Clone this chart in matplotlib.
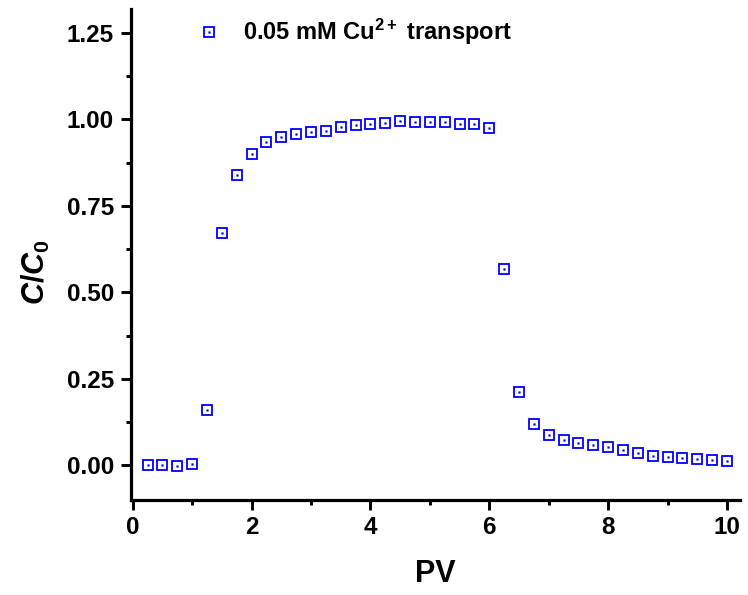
import matplotlib
matplotlib.use("Agg")
import matplotlib.pyplot as plt
from matplotlib.ticker import MultipleLocator, FormatStrFormatter

plt.rcParams['font.family'] = ['Liberation Sans', 'DejaVu Sans']
plt.rcParams['font.weight'] = 'bold'
plt.rcParams['mathtext.fontset'] = 'custom'
plt.rcParams['mathtext.rm'] = 'Liberation Sans:bold'
plt.rcParams['mathtext.bf'] = 'Liberation Sans:bold'
plt.rcParams['mathtext.it'] = 'Liberation Sans:bold:italic'

pv = [0.25, 0.5, 0.75, 1.0, 1.25, 1.5, 1.75, 2.0, 2.25, 2.5, 2.75, 3.0, 3.25, 3.5,
      3.75, 4.0, 4.25, 4.5, 4.75, 5.0, 5.25, 5.5, 5.75, 6.0, 6.25, 6.5, 6.75, 7.0,
      7.25, 7.5, 7.75, 8.0, 8.25, 8.5, 8.75, 9.0, 9.25, 9.5, 9.75, 10.0]
c_c0 = [0.000, 0.001, -0.001, 0.003, 0.159, 0.671, 0.838, 0.900, 0.934, 0.949,
        0.957, 0.964, 0.966, 0.977, 0.985, 0.988, 0.989, 0.994, 0.993, 0.993,
        0.992, 0.986, 0.987, 0.976, 0.569, 0.211, 0.119, 0.088, 0.074, 0.064,
        0.059, 0.052, 0.044, 0.036, 0.028, 0.023, 0.021, 0.018, 0.015, 0.013]
series_label = r"0.05 mM Cu$^{\mathbf{2+}}$ transport"

W, H = 748, 595
fig = plt.figure(figsize=(W / 100, H / 100), dpi=100)
ax = fig.add_axes([131 / W, 1 - 500 / H, (740 - 131) / W, (500 - 9) / H])

color = '#0000ff'
l1, = ax.plot(pv, c_c0, linestyle='none', marker='s', markersize=6.5,
              markerfacecolor='none', markeredgecolor=color, markeredgewidth=1.3)
l2, = ax.plot(pv, c_c0, linestyle='none', marker='s', markersize=1.2,
              markerfacecolor=color, markeredgecolor=color, markeredgewidth=0.3)

ax.set_xlim(-0.03, 10.22)
ax.set_ylim(-0.1, 1.319)
ax.xaxis.set_major_locator(MultipleLocator(2))
ax.xaxis.set_minor_locator(MultipleLocator(1))
ax.yaxis.set_major_locator(MultipleLocator(0.25))
ax.yaxis.set_minor_locator(MultipleLocator(0.125))
ax.yaxis.set_major_formatter(FormatStrFormatter('%.2f'))

for s in ['top', 'right']:
    ax.spines[s].set_visible(False)
for s in ['left', 'bottom']:
    ax.spines[s].set_linewidth(2.3)

ax.tick_params(which='major', direction='out', length=7.2, width=2.1,
               labelsize=17.5)
ax.tick_params(axis='y', which='major', pad=5)
ax.tick_params(axis='x', which='major', pad=4.5)
ax.tick_params(which='minor', direction='out', length=3.6, width=2.1)
for lab in ax.get_xticklabels() + ax.get_yticklabels():
    lab.set_fontweight('bold')

ax.set_xlabel('PV', fontsize=22, fontweight='bold')
ax.xaxis.set_label_coords(0.5, (500 - 559) / 491)
ax.set_ylabel(r'$C/C_{\mathbf{0}}$', fontsize=22)
ax.yaxis.set_label_coords((52 - 131) / 609, (500 - 272) / 491)

leg = ax.legend([(l1, l2)], [series_label], loc='center left',
                bbox_to_anchor=(197 / W, 1 - 32 / H),
                bbox_transform=fig.transFigure, frameon=False,
                borderpad=0, borderaxespad=0,
                prop={'size': 17, 'weight': 'bold'}, handlelength=1.0,
                handletextpad=0.95)

fig.savefig('out.png', dpi=100)
